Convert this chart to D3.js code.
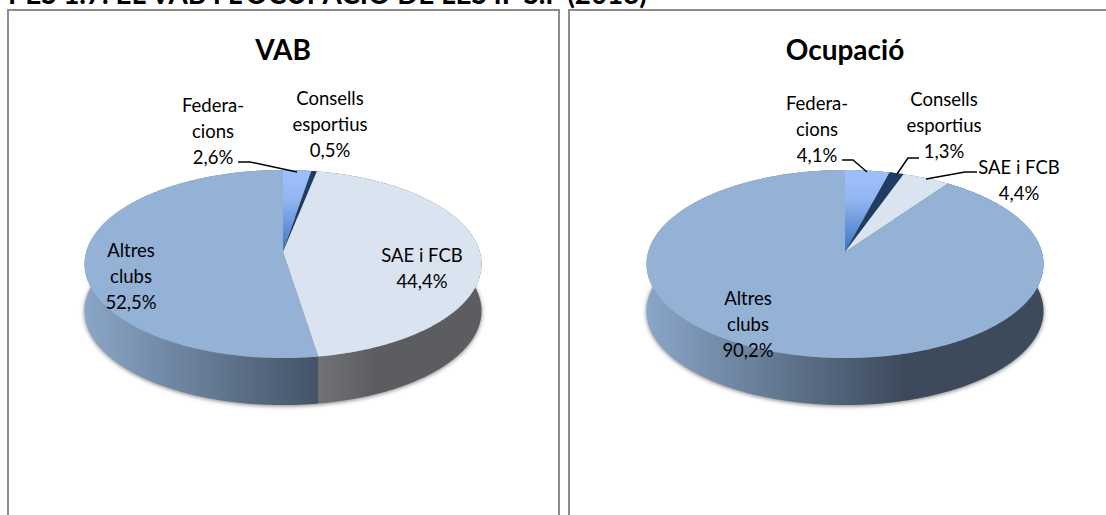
<!doctype html>
<html>
  <head>
    <meta charset="utf-8">
    <title>VAB i ocupació</title>
    <script src="https://cdnjs.cloudflare.com/ajax/libs/d3/7.8.5/d3.min.js"></script>
    <style>
      body { margin: 0; background: #fff; }
      svg { display: block; font-family: Lato, sans-serif; }
    </style>
  </head>
  <body>
    <div id="chart"></div>
    <script>
      // data
      const categories = ['Federa-\ncions', 'Consells\nesportius', 'SAE i FCB', 'Altres\nclubs'];
      const vabValues = [2.6, 0.5, 44.4, 52.5];
      const ocupacioValues = [4.1, 1.3, 4.4, 90.2];
      const chartTitles = ['VAB', 'Ocupació'];
      const pageTitle = "PES 1.7. EL VAB I L'OCUPACIÓ DE LES IF S.F (2013)";

      const width = 1106, height = 515;
      const sliceKeys = ['fed', 'cons', 'sae', 'altres'];
      const topColors = { fed: 'url(#fedGrad)', cons: '#1f3d63', sae: '#dae3f0', altres: '#94b1d6' };

      // pie shape: tilted disc, centre seen above the middle of the ellipse
      const apexY = 252, depth = 47, radA = 196.9, radV = 92.5, persp = -0.1277;

      const svg = d3.select('#chart').append('svg')
        .attr('width', width)
        .attr('height', height);

      const defs = svg.append('defs');
      defs.append('filter').attr('id', 'blur')
        .attr('x', '-5%').attr('width', '110%').attr('y', '-5%').attr('height', '110%')
        .append('feGaussianBlur').attr('stdDeviation', 2);
      const fedGrad = defs.append('linearGradient').attr('id', 'fedGrad')
        .attr('gradientUnits', 'userSpaceOnUse')
        .attr('x1', 0).attr('x2', 0).attr('y1', 171).attr('y2', apexY);
      fedGrad.append('stop').attr('offset', 0).attr('stop-color', '#9dbffb');
      fedGrad.append('stop').attr('offset', 0.35).attr('stop-color', '#94b6f0');
      fedGrad.append('stop').attr('offset', 1).attr('stop-color', '#3a74c4');

      // the reference crops this line at the top of the page
      svg.append('text')
        .attr('x', 8)
        .attr('y', 3.5)
        .attr('font-size', 27.8)
        .attr('font-weight', 700)
        .text(pageTitle);

      const pie = d3.pie().sort(null);
      const line = d3.line();

      function rim(cx, a) {
        const u = Math.sin(a), v = -Math.cos(a);
        const k = 1 + persp * v;
        return [cx + radA * u / k, apexY + radV * v / k];
      }

      function rimPoints(cx, a0, a1) {
        const pts = d3.range(a0, a1, 0.01).map(a => rim(cx, a));
        pts.push(rim(cx, a1));
        return pts;
      }

      function addWallGrad(id, stops, x1, x2) {
        const g = defs.append('linearGradient').attr('id', id)
          .attr('gradientUnits', 'userSpaceOnUse')
          .attr('x1', x1).attr('x2', x2).attr('y1', 0).attr('y2', 0);
        stops.forEach((c, i) => {
          g.append('stop').attr('offset', i / (stops.length - 1)).attr('stop-color', c);
        });
      }

      function drawPanel(px, pw, cx, title, values, labels, leaders) {
        const g = svg.append('g');

        // frame has no bottom edge, it runs off the page
        const open = pw === null
          ? [[px, height], [px, 10], [width, 10]]
          : [[px, height], [px, 10], [px + pw, 10], [px + pw, height]];
        g.append('path')
          .attr('d', line(open))
          .attr('fill', 'none')
          .attr('stroke', '#8c8c8c')
          .attr('stroke-width', 2);

        g.append('text')
          .attr('x', cx)
          .attr('y', 60)
          .attr('text-anchor', 'middle')
          .attr('font-size', 28)
          .attr('font-weight', 700)
          .text(title);

        const arcs = pie(values);
        const left = cx - 198.5;
        const idBase = title === 'VAB' ? 'a' : 'b';
        addWallGrad(idBase + 'altres', ['#8aa6c8', '#3d4a5c'], left, left + 258);
        addWallGrad(idBase + 'sae', ['#727376', '#5b5d61'], left + 234, left + 290);
        addWallGrad(idBase + 'fed', ['#3d4a5c', '#3d4a5c'], left, left + 258);
        addWallGrad(idBase + 'cons', ['#3d4a5c', '#3d4a5c'], left, left + 258);

        const whole = rimPoints(cx, 0, 2 * Math.PI);

        // soft shadow under the disc
        g.append('path')
          .attr('d', line(whole.map(p => [p[0], p[1] + depth + 1])) + 'Z')
          .attr('fill', '#555')
          .attr('opacity', 0.75)
          .attr('filter', 'url(#blur)');

        // side walls
        g.selectAll('path.wall')
          .data(arcs)
          .join('path')
          .attr('class', 'wall')
          .attr('d', d => {
            const pts = rimPoints(cx, d.startAngle, d.endAngle);
            const low = pts.map(p => [p[0], p[1] + depth]).reverse();
            return line(pts.concat(low)) + 'Z';
          })
          .attr('fill', (d, i) => 'url(#' + idBase + sliceKeys[i] + ')');

        // top face
        g.selectAll('path.slice')
          .data(arcs)
          .join('path')
          .attr('class', 'slice')
          .attr('d', d => line([[cx, apexY]].concat(rimPoints(cx, d.startAngle, d.endAngle))) + 'Z')
          .attr('fill', (d, i) => topColors[sliceKeys[i]]);

        leaders.forEach(l => {
          g.append('path')
            .attr('d', line(l))
            .attr('fill', 'none')
            .attr('stroke', '#000')
            .attr('stroke-width', 1.5);
        });

        categories.forEach((c, i) => {
          const rows = c.split('\n').concat(d3.format('.1f')(values[i]).replace('.', ',') + '%');
          const t = g.append('text')
            .attr('text-anchor', 'middle')
            .attr('font-size', 18.5)
            .attr('fill', '#000');
          rows.forEach((r, j) => {
            t.append('tspan')
              .attr('x', labels[i][0])
              .attr('y', labels[i][1] + j * 26)
              .text(r);
          });
        });
      }

      drawPanel(8, 551, 283, chartTitles[0], vabValues,
        [[213, 112], [330, 105], [422, 262], [131, 257]],
        [[[238, 162], [250, 162], [297, 172]]]);

      drawPanel(569, null, 845, chartTitles[1], ocupacioValues,
        [[817, 110], [944, 106], [1019, 174], [748, 305]],
        [[[842, 160], [853, 160], [867, 172]],
         [[919, 158], [908, 158], [897, 174]],
         [[977, 172], [965, 172], [926, 179]]]);
    </script>
  </body>
</html>
